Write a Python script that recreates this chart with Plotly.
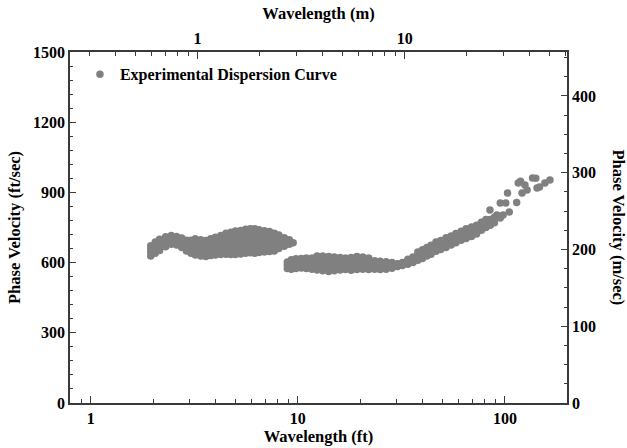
import plotly.graph_objects as go

# ---------------- data ----------------
FT_PER_M = 3.28084

# each wavelength (ft) column and the phase velocities (ft/s) read at it
column_wavelength_ft = [
    1.95, 2.05, 2.15, 2.3, 2.45, 2.6, 2.75, 2.9, 3.05, 3.2, 3.4, 3.6, 3.8, 4.0,
    4.25, 4.5, 4.75, 5.0, 5.3, 5.6, 5.9, 6.2, 6.5, 6.9, 7.3, 7.7, 8.1, 8.6, 9.1, 9.5,
    8.9, 9.3, 9.8, 10.4, 11.0, 11.7, 12.4, 13.2, 14.1, 15.0, 16.0, 17.0, 18.1, 19.3,
    20.6, 22.0, 23.5, 25.0, 26.7, 28.5, 30.3, 32.0, 34.0, 36.0, 38.0, 40.0, 42.0,
    44.0, 46.5, 49.0, 52.0, 55.0, 58.0, 61.5, 65.0, 69.0, 73.0, 77.0, 81.0, 85.0, 89.0,
]
column_velocity_fps = [
    [628, 645, 660, 672],
    [640, 656, 672, 688],
    [652, 668, 684, 700],
    [668, 682, 696, 710],
    [678, 692, 705, 716],
    [675, 688, 700, 712],
    [665, 678, 692, 705],
    [650, 665, 680, 695],
    [640, 655, 670, 685, 695],
    [632, 647, 662, 677, 692, 702],
    [628, 643, 658, 673, 688, 698],
    [626, 640, 655, 670, 685, 694],
    [630, 645, 660, 675, 690, 702],
    [632, 647, 662, 677, 692, 708],
    [635, 650, 666, 682, 698, 716],
    [636, 652, 668, 684, 700, 714, 725],
    [635, 652, 669, 686, 703, 718, 730],
    [635, 652, 669, 686, 703, 720, 735],
    [637, 654, 671, 688, 705, 722, 737],
    [640, 657, 674, 691, 708, 725, 742],
    [642, 659, 676, 693, 710, 727, 745],
    [640, 657, 674, 691, 708, 726, 745],
    [643, 660, 677, 694, 711, 727, 740],
    [645, 661, 677, 693, 709, 724, 736],
    [647, 662, 677, 692, 707, 722, 733],
    [650, 665, 680, 695, 710, 725],
    [660, 675, 690, 705, 718],
    [670, 683, 696, 706],
    [678, 690, 698],
    [685],
    [575, 590, 603],
    [572, 586, 600, 612],
    [575, 589, 603, 616],
    [577, 591, 605, 618],
    [575, 590, 605, 620],
    [572, 588, 604, 620],
    [568, 583, 598, 613, 628],
    [565, 580, 596, 612, 628],
    [562, 578, 594, 610, 626],
    [565, 580, 595, 610, 624],
    [568, 582, 596, 610, 622],
    [570, 583, 596, 609, 620],
    [567, 581, 595, 609, 622],
    [570, 584, 598, 612, 626],
    [572, 585, 598, 611, 624],
    [570, 583, 596, 609, 620],
    [572, 584, 596, 608],
    [570, 582, 594, 606],
    [572, 583, 594, 604],
    [576, 588, 600],
    [583, 595],
    [588, 600],
    [593, 606, 614],
    [600, 613, 624],
    [610, 622, 634, 645],
    [618, 630, 642, 655],
    [628, 640, 652, 664],
    [636, 648, 660, 674],
    [648, 660, 673, 688],
    [656, 668, 680, 694],
    [665, 678, 692, 706],
    [675, 688, 701, 714],
    [685, 698, 711, 724],
    [695, 708, 721, 734],
    [703, 717, 731, 745],
    [712, 726, 740, 752],
    [722, 735, 748, 760],
    [738, 750, 762, 772],
    [750, 762, 774, 784],
    [760, 772, 784],
    [770, 782, 794],
]

# scattered long-wavelength points
scatter_wavelength_ft = [84.7, 91.5, 95, 95, 98, 101, 103, 105, 114, 116,
                         119, 121, 125, 128, 136, 141, 143, 147, 156, 165]
scatter_velocity_fps = [825, 803, 791, 855, 803, 855, 897, 816, 857, 940,
                        948, 897, 932, 910, 962, 960, 919, 923, 940, 953]

x_ft_range_log = [-0.1, 2.3]
y_fps_range = [0, 1500]

bottom_major = [1, 10, 100]
bottom_minor = [0.9, 2, 3, 4, 5, 6, 7, 8, 9, 20, 30, 40, 50, 60, 70, 80, 90]
top_major = [1, 10]
top_minor = [0.3, 0.4, 0.5, 0.6, 0.7, 0.8, 0.9, 2, 3, 4, 5, 6, 7, 8, 9, 20, 30, 40, 50, 60]

# ---------------- assemble points ----------------
wavelength_ft = []
velocity_fps = []
for w, vs in zip(column_wavelength_ft, column_velocity_fps):
    for v in vs:
        wavelength_ft.append(w)
        velocity_fps.append(v)
wavelength_ft += scatter_wavelength_ft
velocity_fps += scatter_velocity_fps

wavelength_m = [w / FT_PER_M for w in wavelength_ft]
velocity_mps = [v * 0.3048 for v in velocity_fps]

# ---------------- figure ----------------
FONT = "Liberation Serif"
AXC = "#3a3a3a"
GRAY = "#808080"

fig = go.Figure()
fig.add_trace(go.Scatter(
    x=wavelength_ft, y=velocity_fps, mode="markers",
    name="Experimental Dispersion Curve",
    marker=dict(color=GRAY, size=7.5, line=dict(width=0)),
    xaxis="x", yaxis="y",
))
# same points in SI units, invisible, to carry the top/right axes
fig.add_trace(go.Scatter(
    x=wavelength_m, y=velocity_mps, mode="markers",
    marker=dict(color=GRAY, size=7, opacity=0),
    showlegend=False, hoverinfo="skip",
    xaxis="x2", yaxis="y2",
))

tickfont = dict(family=FONT, size=16, color="black", weight="bold")
titlefont = dict(family=FONT, size=16.5, color="black", weight="bold")

fig.update_layout(
    width=627, height=448,
    margin=dict(l=70, r=60, t=52, b=45, autoexpand=False),
    paper_bgcolor="white", plot_bgcolor="white",
    font=dict(family=FONT, color="black"),
    showlegend=True,
    legend=dict(x=0.02, y=0.985, xanchor="left", yanchor="top",
                bgcolor="rgba(0,0,0,0)", font=dict(family=FONT, size=16, color="black", weight="bold"),
                itemsizing="trace"),
    xaxis=dict(
        type="log", range=x_ft_range_log, automargin=False,
        showline=True, linecolor=AXC, linewidth=1.5,
        showgrid=False, zeroline=False,
        ticks="inside", ticklen=7, tickcolor=AXC, tickwidth=1,
        tickmode="array", tickvals=bottom_major, ticktext=[str(v) for v in bottom_major],
        minor=dict(tickmode="array", tickvals=bottom_minor, ticks="inside", ticklen=4, tickcolor=AXC, showgrid=False),
        tickfont=tickfont,
        title=dict(text="Wavelength (ft)", font=titlefont, standoff=2),
    ),
    xaxis2=dict(
        type="log", overlaying="x", side="top", automargin=False,
        range=[x_ft_range_log[0] - 0.5159842, x_ft_range_log[1] - 0.5159842],
        showline=True, linecolor=AXC, linewidth=1.5,
        showgrid=False, zeroline=False,
        ticks="inside", ticklen=7, tickcolor=AXC, tickwidth=1,
        tickmode="array", tickvals=top_major, ticktext=[str(v) for v in top_major],
        minor=dict(tickmode="array", tickvals=top_minor, ticks="inside", ticklen=4, tickcolor=AXC, showgrid=False),
        tickfont=tickfont,
        title=dict(text="Wavelength (m)", font=titlefont, standoff=6),
    ),
    yaxis=dict(
        range=y_fps_range, automargin=False,
        showline=True, linecolor=AXC, linewidth=1.5,
        showgrid=False, zeroline=False,
        ticks="inside", ticklen=6, tickcolor=AXC, tickwidth=1,
        tickmode="linear", tick0=0, dtick=300,
        minor=dict(tickmode="linear", tick0=0, dtick=60, ticks="inside", ticklen=3, tickcolor=AXC, showgrid=False),
        tickfont=tickfont,
        title=dict(text="Phase Velocity (ft/sec)", font=titlefont, standoff=8),
    ),
    yaxis2=dict(
        overlaying="y", side="right", automargin=False,
        range=[y_fps_range[0] * 0.3048, y_fps_range[1] * 0.3048],
        showline=True, linecolor=AXC, linewidth=1.5,
        showgrid=False, zeroline=False,
        ticks="inside", ticklen=6, tickcolor=AXC, tickwidth=1,
        tickmode="linear", tick0=0, dtick=100,
        minor=dict(tickmode="linear", tick0=0, dtick=25, ticks="inside", ticklen=3, tickcolor=AXC, showgrid=False),
        tickfont=tickfont,
    ),
    annotations=[dict(
        text="Phase Velocity (m/sec)", textangle=90,
        xref="paper", yref="paper", x=1.0, y=0.5,
        xshift=51, xanchor="center", yanchor="middle",
        showarrow=False, font=titlefont,
    )],
)

fig.write_html(
    "out.html",
    config={"displayModeBar": False},
    post_script="document.body.style.margin='0px';document.body.style.padding='0px';",
)
